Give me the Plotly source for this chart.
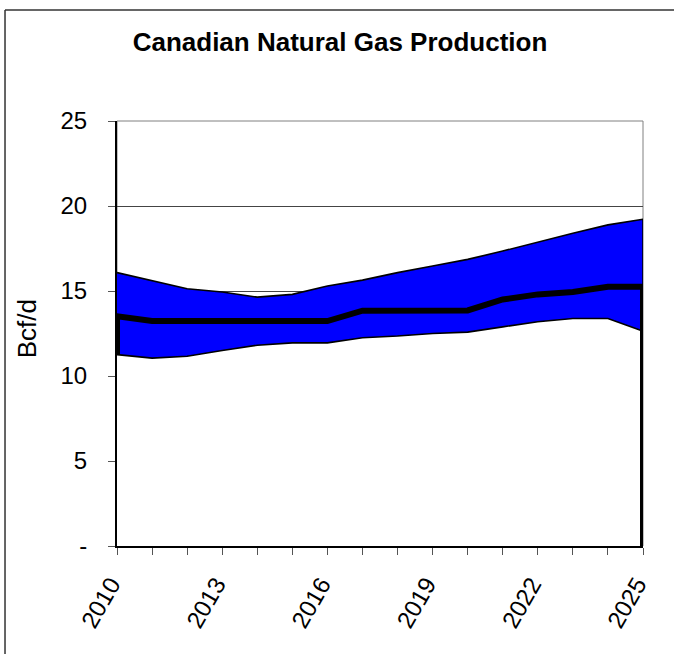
import plotly.graph_objects as go

# Canadian natural gas production outlook, Bcf/d
years = list(range(2010, 2026))
low_case = [11.26, 11.05, 11.16, 11.50, 11.81, 11.95, 11.95, 12.25,
            12.35, 12.50, 12.58, 12.89, 13.19, 13.38, 13.38, 12.64]
high_case = [16.08, 15.59, 15.13, 14.94, 14.64, 14.80, 15.29, 15.64,
             16.08, 16.47, 16.86, 17.35, 17.88, 18.40, 18.89, 19.22]
base_case = [13.52, 13.23, 13.23, 13.23, 13.23, 13.23, 13.23, 13.84,
             13.86, 13.86, 13.86, 14.50, 14.80, 14.94, 15.25, 15.25]

y_ticks = [0, 5, 10, 15, 20, 25]
y_tick_text = ["-", "5", "10", "15", "20", "25"]
x_tick_text = [str(y) if (y - 2010) % 3 == 0 else "" for y in years]

FONT = "Arial, 'Liberation Sans', sans-serif"

fig = go.Figure()

# white area below the low case hides the grid underneath the band
fig.add_trace(go.Scatter(
    x=years, y=low_case, mode="lines", fill="tozeroy",
    fillcolor="white", line=dict(width=0, color="white"),
    hoverinfo="skip", showlegend=False))

# low-to-high range band
fig.add_trace(go.Scatter(
    x=years + years[::-1], y=high_case + low_case[::-1],
    mode="lines", fill="toself", fillcolor="#0000FF",
    line=dict(color="black", width=1.6),
    name="Range", showlegend=False))

# base case, closed down to the axis at the ends like an outlined area
fig.add_trace(go.Scatter(
    x=[years[0]] + years + [years[-1]],
    y=[low_case[0]] + base_case + [0],
    mode="lines", line=dict(color="black", width=6),
    name="Base", showlegend=False))

# plot-area frame (grey on top and right)
fig.add_shape(type="rect", xref="paper", yref="paper", x0=0, x1=1, y0=0, y1=1,
              line=dict(color="#808080", width=1), layer="below")
# outer chart border: left and top edges inside the page
border = dict(color="#333333", width=1.5)
fig.add_shape(type="line", xref="paper", yref="paper",
              x0=-0.2129, x1=-0.2129, y0=-0.4, y1=1.2612, line=border, layer="below")
fig.add_shape(type="line", xref="paper", yref="paper",
              x0=-0.2129, x1=1.3, y0=1.2612, y1=1.2612, line=border, layer="below")

fig.add_annotation(text="Bcf/d", xref="paper", yref="paper",
                   x=-0.171, y=0.51, xanchor="center", yanchor="middle",
                   textangle=-90, showarrow=False,
                   font=dict(family=FONT, size=26, color="black"))

fig.update_layout(
    width=674, height=654,
    margin=dict(l=117, r=31, t=121, b=108),
    paper_bgcolor="white", plot_bgcolor="white",
    title=dict(text="<b>Canadian Natural Gas Production</b>",
               x=340 / 674, xanchor="center", y=1 - 42 / 654, yanchor="middle",
               font=dict(family=FONT, size=26, color="black")),
    font=dict(family=FONT, size=24, color="black"),
)

fig.update_xaxes(
    range=[2010, 2025], tickmode="array", tickvals=years, ticktext=x_tick_text,
    tickangle=-60, ticks="outside", ticklen=7, tickcolor="#555555",
    ticklabelstandoff=6, ticklabelshift=-6,
    showgrid=False, zeroline=False, showline=True, linecolor="black", linewidth=2,
    tickfont=dict(family=FONT, size=24, color="black"),
)
fig.update_yaxes(
    range=[0, 25], tickmode="array", tickvals=y_ticks, ticktext=y_tick_text,
    ticks="outside", ticklen=7, tickcolor="#555555", ticklabelstandoff=16,
    showgrid=True, gridcolor="#444444", gridwidth=1,
    zeroline=False, showline=True, linecolor="black", linewidth=2,
    tickfont=dict(family=FONT, size=24, color="black"),
)

# keep the page free of scrollbars
fig.write_html(
    "out.html",
    config={"displayModeBar": False},
    post_script="document.documentElement.style.overflow='hidden';"
                "document.body.style.overflow='hidden';"
                "document.body.style.margin='0';",
)
